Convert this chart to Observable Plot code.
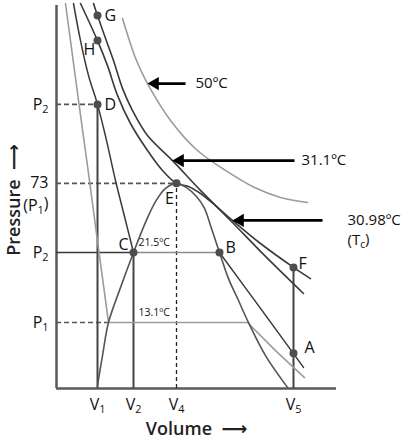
<!DOCTYPE html>
<html>
<head>
<meta charset="utf-8">
<script src="https://cdn.jsdelivr.net/npm/d3@7"></script>
<script src="https://cdn.jsdelivr.net/npm/@observablehq/plot@0.6"></script>
<style>
  html, body { margin: 0; padding: 0; background: #fff; }
  #chart { width: 408px; height: 445px; }
</style>
</head>
<body>
<div id="chart"></div>
<script>
// ---------- data (volume in arbitrary units, pressure in atm) ----------
// isotherm 13.1 ºC : liquid branch, flat (liquefaction), gas branch
const iso13 = [[4.5,137],[11,102.5],[16.5,74],[19.8,56.2],[26,23.5],[95.5,23.5],[109.5,13.5],[124,3.9]];
// isotherm 21.5 ºC : liquid branch up to C, gas branch from B
const iso21Liquid = [[8.5,137],[12,123.8],[16,111.4],[20.5,101.1],[25,88.3],[29.5,74],[34.5,59.8],[38.5,48.4]];
const iso21Flat = [[38.5,48.4],[81.5,48.4]];
const iso21Gas = [[81.5,48.4],[102,28.5],[123.5,7.5]];
// critical isotherm 30.98 ºC (Tc)
const isoTc = [[12,137],[20.5,123.8],[25.5,114.9],[30.5,104.3],[37,94.3],[45.5,84.7],[53,77.6],[60,73],[66,71.9],[72,69.4],[79.5,65.1],[88,59.8],[102,51.6],[118.5,43.1],[127,39.1]];
// isotherm 31.1 ºC
const iso311 = [[18.5,137],[20.5,132.7],[24.5,124.6],[28.5,116.7],[33,106.8],[38,98.9],[45.5,90],[58,81.1],[72,70.5],[87,59.8],[104.5,47],[123.5,33.8]];
// isotherm 50 ºC
const iso50 = [[33,131.7],[40,116.7],[45.5,108.5],[57,95.4],[70.5,84.7],[84.5,77.6],[99,71.5],[112,68],[125.5,66.2]];
// saturation dome
const dome = [[20.5,1.1],[23,11.7],[26,23.5],[32,35.9],[38.5,48.4],[44.5,59.1],[49.5,66.5],[54.5,71.2],[60,73],[65,71.5],[70,68.3],[74,64.1],[77.5,56.9],[81.5,48.4],[86,39.1],[91,31.3],[95.5,24.2],[104.5,11.7],[115.5,0.4]];

// labelled states
const pointNames = ["G","H","D","E","C","B","F","A"];
const pointV = [20.5,20.5,20.5,60,38.5,81.5,118.5,118.5];
const pointP = [132.7,123.8,101.1,73,48.4,48.4,43.1,12.5];

// axis ticks
const xTickV = [20.5,38.5,60,118.5];
const xTickLabels = ["V_1","V_2","V_4","V_5"];
const yTickP = [101.1,73,65.1,48.4,23.5];
const yTickLabels = ["P_2","73","(P_1)","P_2","P_1"];

// guide lines
const dashedH = [{p:101.1, v:20.5},{p:73, v:60},{p:23.5, v:26}];
const solidH = [{p:48.4, v:38.5}];
const solidV = [{v:20.5, p:101.1},{v:38.5, p:48.4},{v:118.5, p:43.1}];
const dashedV = [{v:60, p:73}];

// isotherm annotations
const arrowLabels = ["50ºC","31.1ºC","30.98ºC"];
const arrowTipV = [45.5,58,88];
const arrowTipP = [108.5,81.1,59.8];
const arrowTailV = [64.5,119,133];
const arrowTextV = [69.5,122.5,145.5];

// inline temperatures on the flats
const flatLabels = ["21.5ºC","13.1ºC"];
const flatLabelV = [41,41];
const flatLabelP = [48.4,23.5];

// ---------- styling ----------
const FONT = "'Open Sans', 'DejaVu Sans', sans-serif";
const DARK = "#3a3a3a";
const GRAY = "#9c9c9c";
const labelLayout = {
  G:{dx:7,dy:0,a:"start"}, H:{dx:-8,dy:9,a:"middle"}, D:{dx:7,dy:0,a:"start"},
  E:{dx:-7,dy:16,a:"middle"}, C:{dx:-10,dy:-8,a:"middle"}, B:{dx:6,dy:-5,a:"start"},
  F:{dx:5,dy:-4,a:"start"}, A:{dx:11,dy:-5,a:"start"}
};

const fx = d => d[0], fy = d => d[1];
const idx = arr => arr.map((_, i) => i);

const marks = [
  // axes
  Plot.ruleX([0], {y1: 0, y2: 136.3, stroke: "#5a5a5a", strokeWidth: 2.5}),
  Plot.ruleY([0], {x1: 0, x2: 140, stroke: "#5a5a5a", strokeWidth: 2.5}),
  // guides
  Plot.ruleY(dashedH, {y: "p", x1: 0, x2: "v", stroke: "#555", strokeWidth: 1.6, strokeDasharray: "5,3"}),
  Plot.ruleY(solidH, {y: "p", x1: 0, x2: "v", stroke: DARK, strokeWidth: 1.6}),
  Plot.ruleX(dashedV, {x: "v", y1: 0, y2: "p", stroke: "#222", strokeWidth: 1.3, strokeDasharray: "4,3"}),
  Plot.ruleX(solidV, {x: "v", y1: 0, y2: "p", stroke: "#444", strokeWidth: 2}),
  // isotherms
  Plot.line(iso13, {x: fx, y: fy, stroke: GRAY, strokeWidth: 1.6}),
  Plot.line(iso21Flat, {x: fx, y: fy, stroke: "#8a8a8a", strokeWidth: 1.6}),
  Plot.line(iso21Liquid, {x: fx, y: fy, stroke: DARK, strokeWidth: 1.5, curve: "catmull-rom"}),
  Plot.line(iso21Gas, {x: fx, y: fy, stroke: DARK, strokeWidth: 1.5, curve: "catmull-rom"}),
  Plot.line(iso50, {x: fx, y: fy, stroke: GRAY, strokeWidth: 1.6, curve: "catmull-rom"}),
  Plot.line(iso311, {x: fx, y: fy, stroke: DARK, strokeWidth: 1.6, curve: "catmull-rom"}),
  Plot.line(isoTc, {x: fx, y: fy, stroke: DARK, strokeWidth: 1.6, curve: "catmull-rom"}),
  Plot.line(dome, {x: fx, y: fy, stroke: "#555", strokeWidth: 1.6, curve: "catmull-rom"}),
  // points
  Plot.dot(idx(pointNames), {x: i => pointV[i], y: i => pointP[i], r: 4, fill: "#4d4d4d", stroke: "none"}),
  // arrows
  Plot.link(idx(arrowLabels), {x1: i => arrowTailV[i], x2: i => arrowTipV[i] + 3, y1: i => arrowTipP[i], y2: i => arrowTipP[i], stroke: "#000", strokeWidth: 2.8}),
  Plot.dot(idx(arrowLabels), {x: i => arrowTipV[i], y: i => arrowTipP[i], symbol: "triangle", r: 4.9, rotate: -90, dx: 7.5, fill: "#000", stroke: "none"}),
  Plot.text(idx(arrowLabels), {x: i => arrowTextV[i], y: i => arrowTipP[i], text: i => arrowLabels[i], textAnchor: "start", fontSize: 15, fill: "#111"}),
  Plot.text(["(T_c)"], {x: arrowTextV[2], y: arrowTipP[2], text: d => d, textAnchor: "start", dy: 20, fontSize: 15, fill: "#111"}),
  // flat labels
  Plot.text(idx(flatLabels), {x: i => flatLabelV[i], y: i => flatLabelP[i], text: i => flatLabels[i], textAnchor: "start", dy: -9.5, fontSize: 10.5, fill: "#111"}),
  // tick labels
  Plot.text(idx(xTickLabels), {x: i => xTickV[i], y: 0, text: i => xTickLabels[i], dy: 16, fontSize: 16, fill: "#111"}),
  Plot.text(idx(yTickLabels), {x: 0, y: i => yTickP[i], text: i => yTickLabels[i], textAnchor: "end", dx: -8, fontSize: 16, fill: "#111"}),
  // axis titles
  Plot.text(["Volume  ⟶"], {frameAnchor: "bottom", text: d => d, dy: 41, lineAnchor: "middle", textAnchor: "middle", fontSize: 18, fontWeight: 600, fill: "#222"}),
  Plot.text(["Pressure  ⟶"], {frameAnchor: "left", text: d => d, dx: -42, dy: 4, rotate: -90, lineAnchor: "middle", textAnchor: "middle", fontSize: 18, fontWeight: 600, fill: "#222"})
];
// point labels
pointNames.forEach((n, i) => {
  const L = labelLayout[n];
  marks.push(Plot.text([i], {x: j => pointV[j], y: j => pointP[j], text: j => pointNames[j], dx: L.dx, dy: L.dy, textAnchor: L.a, fontSize: 16, fill: "#111"}));
});

const svg = Plot.plot({
  width: 408, height: 445,
  marginLeft: 56, marginRight: 72, marginTop: 3, marginBottom: 57,
  x: {domain: [0, 140], axis: null},
  y: {domain: [0, 137], axis: null},
  style: {fontFamily: FONT, background: "#fff", color: "#111", overflow: "visible"},
  marks
});

// subscripts: "X_n" -> X with lowered small n
d3.select(svg).selectAll("text").each(function () {
  const t = this.textContent;
  if (!t.includes("_")) return;
  const parts = t.split(/_(\w)/);
  this.textContent = "";
  const sel = d3.select(this);
  let lowered = false;
  parts.forEach((s, i) => {
    if (i % 2 === 1) {
      sel.append("tspan").attr("font-size", "68%").attr("dy", "0.3em").text(s);
      lowered = true;
    } else if (s) {
      const ts = sel.append("tspan").text(s);
      if (lowered) { ts.attr("dy", "-0.3em"); lowered = false; }
    }
  });
});

document.getElementById("chart").appendChild(svg);
</script>
</body>
</html>
